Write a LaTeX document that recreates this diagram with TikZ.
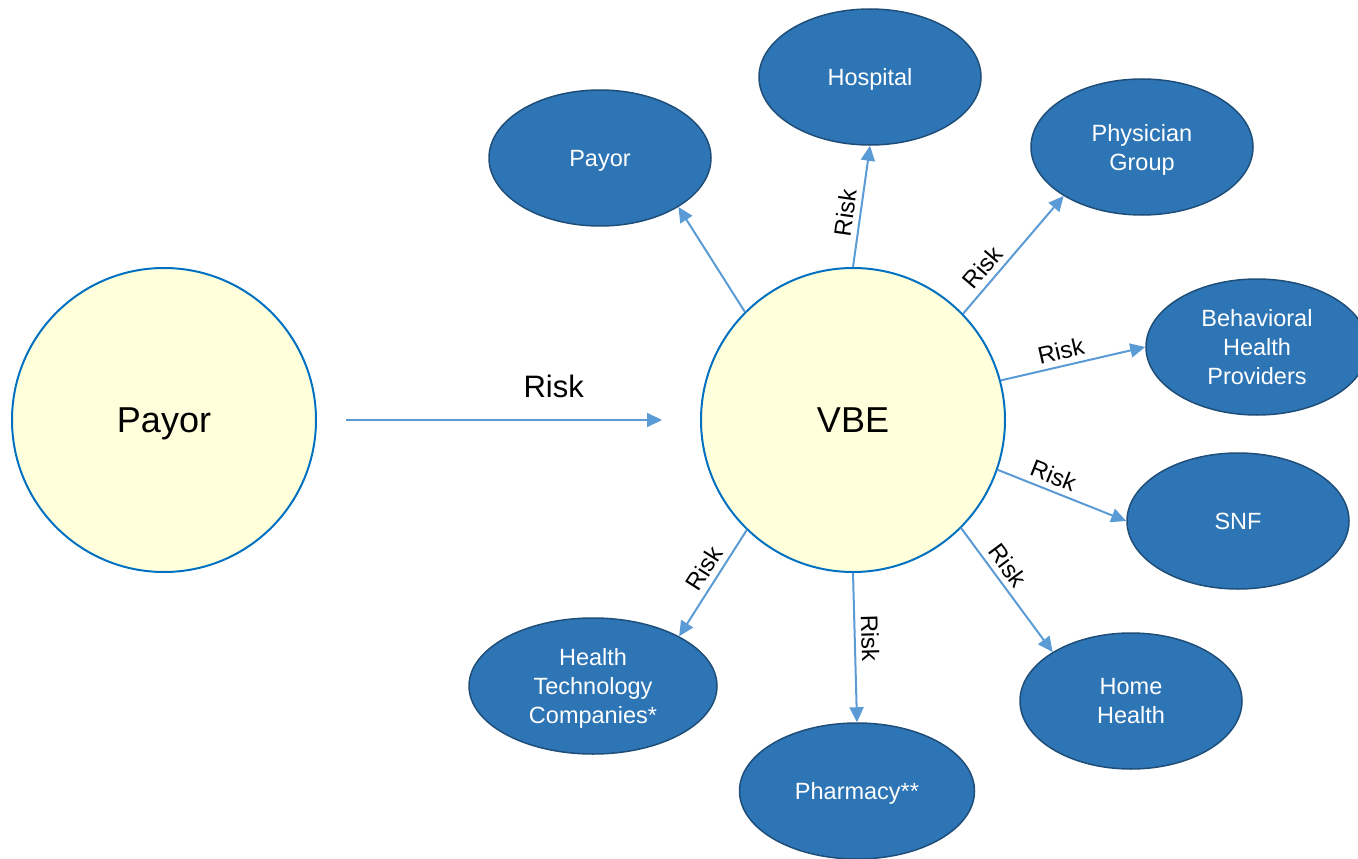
\documentclass[tikz,border=0pt]{standalone}
\usepackage{fontspec}
\setmainfont{Liberation Sans}
\usetikzlibrary{shapes.geometric,arrows.meta}
\definecolor{ellfill}{HTML}{2E75B6}
\definecolor{elldraw}{HTML}{1F4E79}
\definecolor{circfill}{HTML}{FFFFDC}
\definecolor{circdraw}{HTML}{0070C0}
\definecolor{linkcol}{HTML}{5B9BD5}
\begin{document}
\begin{tikzpicture}[x=1pt,y=-1pt,
  party/.style={ellipse, fill=ellfill, draw=elldraw, line width=1.5pt,
    minimum width=222pt, minimum height=136pt, inner sep=0pt, text depth=0pt,
    text=white, align=center, font=\fontsize{23.5}{29}\selectfont},
  hub/.style={circle, fill=circfill, draw=circdraw, line width=2pt,
    minimum size=304pt, inner sep=0pt, text depth=0pt,
    font=\fontsize{36}{43}\selectfont},
  link/.style={draw=linkcol, line width=2pt, -{Triangle[length=15pt,width=14pt]}},
  risk/.style={font=\fontsize{24}{29}\selectfont, sloped, above=3.5pt, inner sep=2pt}
]
\useasboundingbox (0,0) rectangle (1358,859);

% hubs
\node[hub] (payor) at (164,420) {Payor};
\node[hub] (vbe) at (853,420) {VBE};

% partners around the VBE
\node[party] (pay2) at (600,158) {Payor};
\node[party] (hosp) at (870,77) {Hospital};
\node[party] (phys) at (1142,147) {Physician\\Group};
\node[party] (beh) at (1257,347) {Behavioral\\Health\\Providers};
\node[party] (snf) at (1238,521) {SNF};
\node[party] (home) at (1131,701) {Home\\Health};
\node[party, minimum width=235pt] (pharm) at (857,791) {Pharmacy**};
\node[party, minimum width=248pt] (tech) at (593,686) {Health\\Technology\\Companies*};

% risk transfer
\draw[link, shorten <=29pt, shorten >=38pt] (payor) -- (vbe)
  node[pos=0.618, above=19pt, inner sep=2pt, font=\fontsize{31}{37}\selectfont] {Risk};
\draw[link] (vbe.135) -- (pay2.-32);
\draw[link] (vbe.90) -- (hosp.-90) node[risk, pos=0.43] {Risk};
\draw[link] (vbe.44) -- (phys.212) node[risk, pos=0.31] {Risk};
\draw[link] (vbe.15) -- (beh.west) node[risk, pos=0.44] {Risk};
\draw[link] (vbe.-19) -- (snf.west) node[risk, pos=0.39] {Risk};
\draw[link] (vbe.-45) -- (home.148) node[risk, pos=0.375] {Risk};
\draw[link] (vbe.-90) -- (pharm.90) node[risk, pos=0.44] {Risk};
\draw[link] (vbe.-134) -- (tech.30) node[risk, pos=0.44] {Risk};
\end{tikzpicture}
\end{document}
